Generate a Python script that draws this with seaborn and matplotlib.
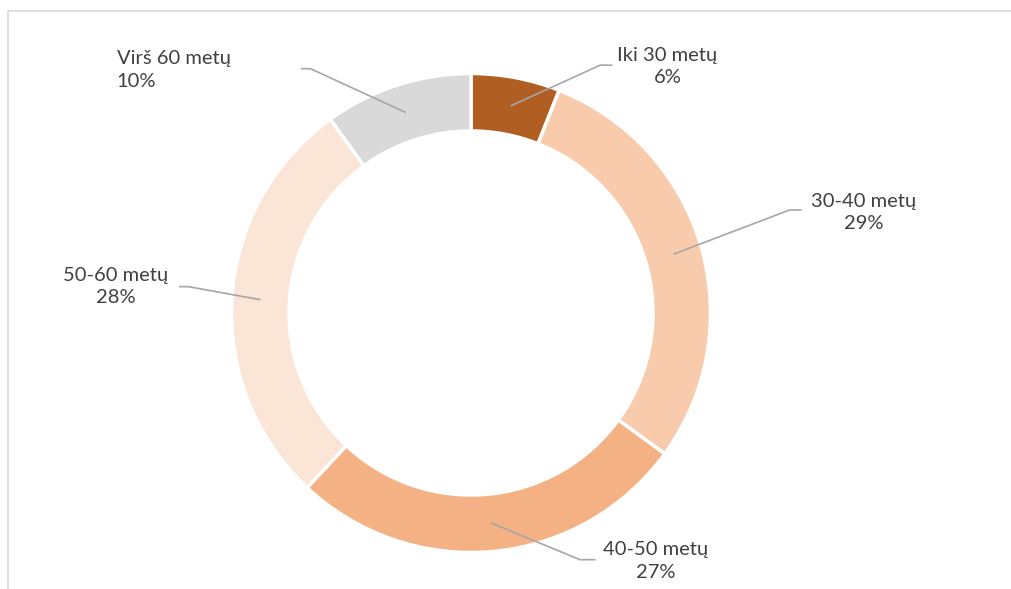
import matplotlib
matplotlib.use("Agg")
import matplotlib.pyplot as plt
import seaborn as sns
import numpy as np

# data
categories = ['Iki 30 metų', '30-40 metų', '40-50 metų', '50-60 metų', 'Virš 60 metų']
shares = [6, 29, 27, 28, 10]
colors = ['#B15E23', '#F8CBAD', '#F4B183', '#FBE5D6', '#D9D9D9']

# label layout (text position, elbow, horizontal end, alignment) in data units
label_pos = [(0.82, 1.03), (1.64, 0.42), (0.77, -1.035), (-1.485, 0.11), (-1.48, 1.015)]
elbow = [(0.54, 1.035), (1.33, 0.43), (0.455, -1.03), (-1.18, 0.11), (-0.67, 1.02)]
line_end = [(0.59, 1.035), (1.38, 0.43), (0.52, -1.03), (-1.22, 0.11), (-0.71, 1.02)]
aligns = ['center', 'center', 'center', 'center', 'left']

sns.set_theme(style='white')
plt.rcParams['font.family'] = ['Lato', 'DejaVu Sans']

fig = plt.figure(figsize=(10.11, 5.89), dpi=100)
ax = fig.add_axes([0, 0, 1, 1])

wedges, _ = ax.pie(shares, colors=colors, startangle=90, counterclock=False,
                   radius=1.0, wedgeprops=dict(width=0.24, edgecolor='white', linewidth=2.5))

R = 239.5
ax.set_xlim(-471 / R, (1011 - 471) / R)
ax.set_ylim((313 - 589) / R, 313 / R)
ax.set_aspect('equal')
ax.axis('off')

for i, w in enumerate(wedges):
    ang = np.deg2rad((w.theta1 + w.theta2) / 2)
    ax_, ay_ = 0.88 * np.cos(ang), 0.88 * np.sin(ang)
    ex, ey = elbow[i]
    lx, ly = line_end[i]
    ax.plot([ax_, ex, lx], [ay_, ey, ly], color='#A6A6A6', lw=1.2, solid_capstyle='butt')
    tx, ty = label_pos[i]
    ax.text(tx, ty, f'{categories[i]}\n{shares[i]}%', ha=aligns[i], va='center',
            multialignment=aligns[i], fontsize=14.5, color='#404040', linespacing=1.4)

# chart frame (top and left edges visible)
fig.add_artist(plt.Line2D([7.5 / 1011, 1.0], [1 - 10.5 / 589] * 2, color='#D9D9D9', lw=1.2))
fig.add_artist(plt.Line2D([7.5 / 1011] * 2, [0, 1 - 10.5 / 589], color='#D9D9D9', lw=1.2))

fig.savefig('out.png', dpi=100)
